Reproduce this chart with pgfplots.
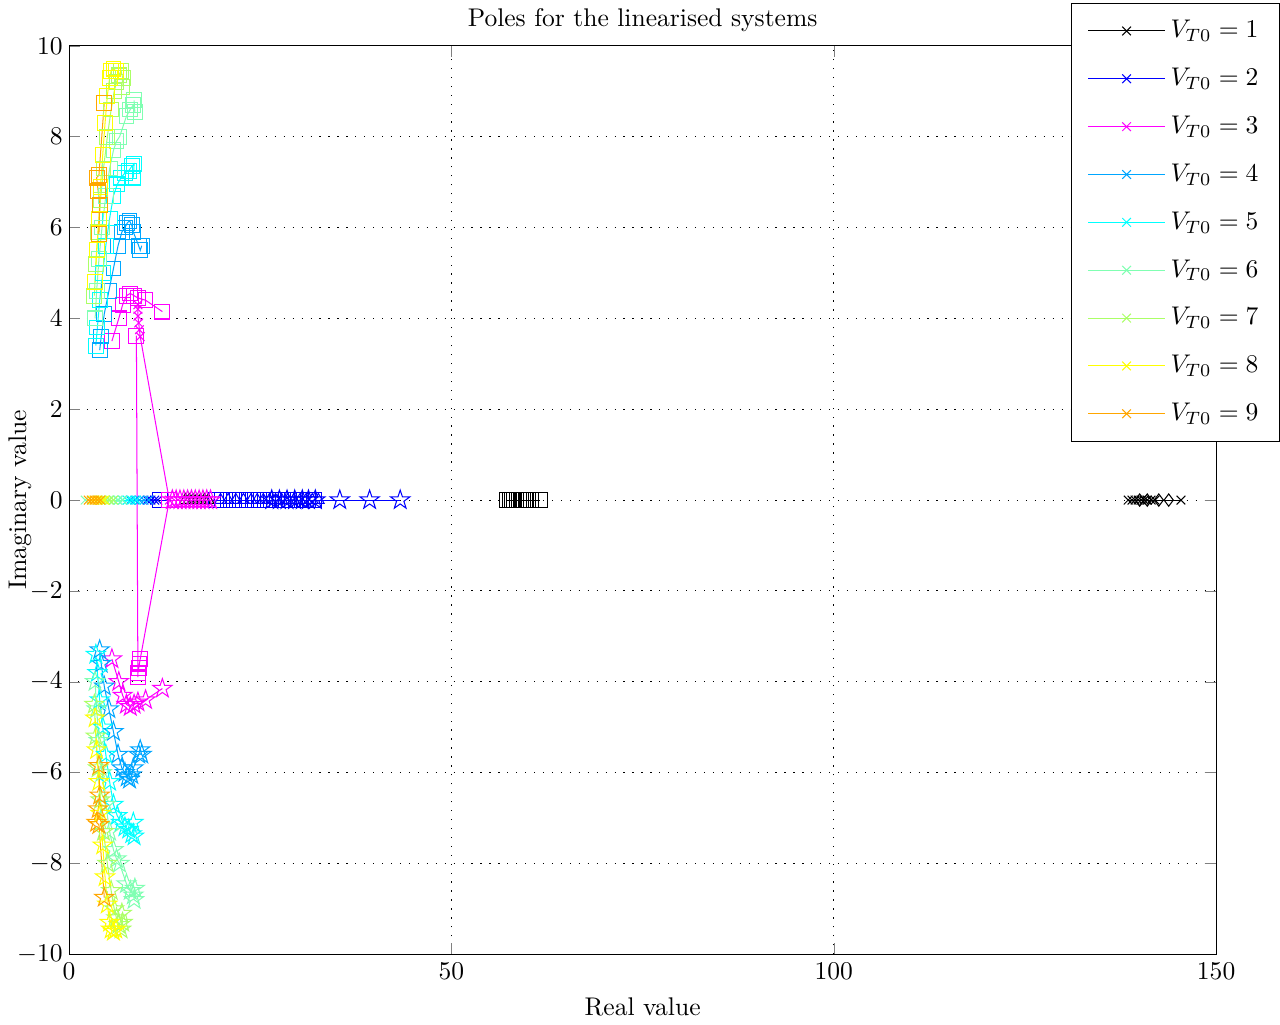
\documentclass[border=0pt]{standalone}
\usepackage{pgfplots}
\pgfplotsset{compat=1.18}

% open five-pointed star (MATLAB's pentagram marker)
\pgfdeclareplotmark{pentagram}{%
  \pgfpathmoveto{\pgfpointpolar{90}{1.35\pgfplotmarksize}}%
  \pgfpathlineto{\pgfpointpolar{126}{0.52\pgfplotmarksize}}%
  \pgfpathlineto{\pgfpointpolar{162}{1.35\pgfplotmarksize}}%
  \pgfpathlineto{\pgfpointpolar{198}{0.52\pgfplotmarksize}}%
  \pgfpathlineto{\pgfpointpolar{234}{1.35\pgfplotmarksize}}%
  \pgfpathlineto{\pgfpointpolar{270}{0.52\pgfplotmarksize}}%
  \pgfpathlineto{\pgfpointpolar{306}{1.35\pgfplotmarksize}}%
  \pgfpathlineto{\pgfpointpolar{342}{0.52\pgfplotmarksize}}%
  \pgfpathlineto{\pgfpointpolar{18}{1.35\pgfplotmarksize}}%
  \pgfpathlineto{\pgfpointpolar{54}{0.52\pgfplotmarksize}}%
  \pgfpathclose
  \pgfusepathqstroke}

\definecolor{c1}{rgb}{0,0,0}
\definecolor{c2}{rgb}{0,0,1}
\definecolor{c3}{rgb}{1,0,1}
\definecolor{c4}{rgb}{0,0.65,1}
\definecolor{c5}{rgb}{0,1,1}
\definecolor{c6}{rgb}{0.5,1,0.7}
\definecolor{c7}{rgb}{0.67,1,0.4}
\definecolor{c8}{rgb}{1,1,0}
\definecolor{c9}{rgb}{1,0.65,0}

\begin{document}
\begin{tikzpicture}
\begin{axis}[
  scale only axis,
  width=449pt, height=355.6pt,
  xmin=0, xmax=150, ymin=-10, ymax=10,
  xtick={0,50,100,150},
  ytick={-10,-8,-6,-4,-2,0,2,4,6,8,10},
  xmajorgrids, ymajorgrids,
  grid style={black, dash pattern=on 0.5pt off 3pt},
  title={Poles for the linearised systems},
  title style={yshift=-4pt},
  xlabel={Real value},
  ylabel={Imaginary value},
  ylabel style={at={(axis description cs:-0.0428,0.5)}, anchor=center},
  yticklabel style={xshift=1pt},
  mark size=2.4pt,
  every axis plot/.append style={thin, mark options={solid}},
  legend image code/.code={\draw[mark repeat=2,mark phase=2,#1]
      plot coordinates {(0pt,0pt) (15pt,0pt) (30pt,0pt)};},
  legend cell align=left,
  legend style={at={(1.0557,1.047)}, anchor=north east,
    draw=black, fill=white, row sep=6.4pt,
    inner xsep=6.2pt, inner ysep=4.5pt},
]

% ---------- V_T0 = 1 ----------
\addplot[c1, mark=x] coordinates {(138.5,0) (139.0,0) (139.4,0) (139.8,0) (140.2,0) (140.6,0) (141.0,0) (141.5,0) (142.0,0) (145.4,0)};
\addlegendentry{$V_{T0}=1$}
\addplot[c1, mark=diamond, forget plot] coordinates {(140.0,0) (141.0,0) (142.5,0) (143.8,0)};
\addplot[c1, mark=square, mark size=2.9pt, forget plot] coordinates {(57.3,0) (57.6,0) (57.9,0) (58.2,0) (58.5,0) (58.8,0) (59.1,0) (59.4,0) (59.7,0) (60.0,0) (60.4,0) (61.6,0)};
\addplot[c1, mark=triangle, mark size=2.6pt, forget plot] coordinates {(15.2,0) (15.7,0) (16.2,0) (16.7,0) (17.2,0) (17.7,0) (18.2,0)};

% ---------- V_T0 = 2 ----------
\addplot[c2, mark=x] coordinates {(10.2,0) (10.7,0) (11.2,0) (11.6,0)};
\addlegendentry{$V_{T0}=2$}
\addplot[c2, mark=square, mark size=2.9pt, forget plot] coordinates {(11.9,0) (19.2,0) (20.0,0) (20.8,0) (21.6,0) (22.4,0) (23.2,0) (24.0,0) (24.8,0) (25.6,0) (26.4,0) (27.2,0) (28.0,0) (28.8,0) (29.6,0) (30.4,0) (31.2,0) (32.0,0)};
\addplot[c2, mark=triangle, mark size=2.6pt, forget plot] coordinates {(19.8,0) (20.8,0) (21.8,0) (22.8,0) (23.8,0) (24.6,0) (25.4,0) (26.2,0) (27.0,0) (27.8,0) (28.6,0) (29.4,0) (30.2,0) (31.0,0) (31.8,0) (32.6,0)};
\addplot[c2, mark=pentagram, mark size=2.9pt, forget plot] coordinates {(26.5,0) (27.5,0) (28.5,0) (29.5,0) (30.5,0) (31.3,0) (32.2,0) (35.4,0) (39.3,0) (43.3,0)};

% ---------- V_T0 = 3 ----------
\addplot[c3, mark=x] coordinates {(9.0,4.3) (9.0,4.2) (9.0,4.05) (9.1,3.9) (9.2,3.75) (9.3,3.6) (13.1,0)};
\addlegendentry{$V_{T0}=3$}
\addplot[c3, mark=square, mark size=2.9pt, forget plot] coordinates {(13.1,0) (9.3,-3.5) (9.2,-3.6) (9.1,-3.7) (9.0,-3.8) (9.0,-3.9) (8.8,3.62)};
\addplot[c3, mark=square, mark size=2.9pt, forget plot] coordinates {(5.6,3.5) (6.5,4.0) (7.0,4.3) (7.5,4.5) (8.0,4.55) (8.5,4.5) (9.0,4.45) (10.0,4.4) (12.2,4.15)};
\addplot[c3, mark=pentagram, mark size=2.9pt, forget plot] coordinates {(5.6,-3.5) (6.5,-4.0) (7.0,-4.3) (7.5,-4.5) (8.0,-4.55) (8.5,-4.5) (9.0,-4.45) (10.0,-4.4) (12.2,-4.15)};
\addplot[c3, mark=pentagram, mark size=2.9pt, forget plot] coordinates {(13.5,0) (14.0,0) (14.5,0) (15.0,0) (15.5,0) (16.0,0) (16.5,0) (17.0,0) (17.5,0) (18.0,0) (18.5,0)};

% ---------- V_T0 = 4 ----------
\addplot[c4, mark=x] coordinates {(8.0,0) (8.6,0) (9.2,0) (9.8,0) (10.4,0)};
\addlegendentry{$V_{T0}=4$}
\addplot[c4, mark=square, mark size=2.9pt, forget plot] coordinates {(4.0,3.3) (4.2,3.6) (4.6,4.1) (5.2,4.6) (5.8,5.1) (6.4,5.6) (6.9,5.9) (7.3,6.0) (7.6,6.1) (7.9,6.15) (8.2,6.05) (8.4,5.9) (9.1,5.6) (9.3,5.5) (9.5,5.6)};
\addplot[c4, mark=pentagram, mark size=2.9pt, forget plot] coordinates {(4.0,-3.3) (4.2,-3.6) (4.6,-4.1) (5.2,-4.6) (5.8,-5.1) (6.4,-5.6) (6.9,-5.9) (7.3,-6.0) (7.6,-6.1) (7.9,-6.15) (8.2,-6.05) (8.4,-5.9) (9.1,-5.6) (9.3,-5.5) (9.5,-5.6)};

% ---------- V_T0 = 5 ----------
\addplot[c5, mark=x] coordinates {(6.4,0) (7.0,0) (7.6,0) (8.2,0) (8.8,0)};
\addlegendentry{$V_{T0}=5$}
\addplot[c5, mark=square, mark size=2.9pt, forget plot] coordinates {(3.5,3.4) (3.7,3.8) (4.0,4.4) (4.4,5.0) (4.8,5.6) (5.3,6.2) (5.8,6.7) (6.3,6.95) (6.8,7.1) (7.3,7.2) (7.8,7.25) (8.2,7.35) (8.5,7.4) (8.4,7.1)};
\addplot[c5, mark=pentagram, mark size=2.9pt, forget plot] coordinates {(3.5,-3.4) (3.7,-3.8) (4.0,-4.4) (4.4,-5.0) (4.8,-5.6) (5.3,-6.2) (5.8,-6.7) (6.3,-6.95) (6.8,-7.1) (7.3,-7.2) (7.8,-7.25) (8.2,-7.35) (8.5,-7.4) (8.4,-7.1)};

% ---------- V_T0 = 6 ----------
\addplot[c6, mark=x] coordinates {(2.1,0) (5.2,0) (5.8,0) (6.4,0) (7.0,0)};
\addlegendentry{$V_{T0}=6$}
\addplot[c6, mark=square, mark size=2.9pt, forget plot] coordinates {(3.4,4.0) (3.6,4.6) (3.9,5.3) (4.3,6.0) (4.8,6.7) (5.3,7.3) (5.8,7.7) (6.2,7.9) (6.6,8.0) (7.5,8.45) (8.0,8.6) (8.4,8.7) (8.6,8.55) (8.5,8.8)};
\addplot[c6, mark=pentagram, mark size=2.9pt, forget plot] coordinates {(3.4,-4.0) (3.6,-4.6) (3.9,-5.3) (4.3,-6.0) (4.8,-6.7) (5.3,-7.3) (5.8,-7.7) (6.2,-7.9) (6.6,-8.0) (7.5,-8.45) (8.0,-8.6) (8.4,-8.7) (8.6,-8.55) (8.5,-8.8)};

% ---------- V_T0 = 7 ----------
\addplot[c7, mark=x] coordinates {(3.8,0) (4.3,0) (4.8,0) (5.3,0) (5.8,0)};
\addlegendentry{$V_{T0}=7$}
\addplot[c7, mark=square, mark size=2.9pt, forget plot] coordinates {(3.3,4.5) (3.5,5.2) (3.8,5.9) (4.1,6.6) (4.5,7.3) (5.0,8.0) (5.5,8.6) (5.9,9.0) (6.2,9.2) (6.5,9.35) (6.8,9.45) (7.0,9.3) (6.9,9.1)};
\addplot[c7, mark=pentagram, mark size=2.9pt, forget plot] coordinates {(3.3,-4.5) (3.5,-5.2) (3.8,-5.9) (4.1,-6.6) (4.5,-7.3) (5.0,-8.0) (5.5,-8.6) (5.9,-9.0) (6.2,-9.2) (6.5,-9.35) (6.8,-9.45) (7.0,-9.3) (6.9,-9.1)};

% ---------- V_T0 = 8 ----------
\addplot[c8, mark=x] coordinates {(3.0,0) (3.4,0) (3.8,0) (4.2,0) (4.6,0)};
\addlegendentry{$V_{T0}=8$}
\addplot[c8, mark=square, mark size=2.9pt, forget plot] coordinates {(3.4,4.8) (3.6,5.5) (3.9,6.2) (4.1,6.9) (4.4,7.6) (4.7,8.3) (5.0,8.9) (5.3,9.3) (5.5,9.45) (5.8,9.5) (6.1,9.45)};
\addplot[c8, mark=pentagram, mark size=2.9pt, forget plot] coordinates {(3.4,-4.8) (3.6,-5.5) (3.9,-6.2) (4.1,-6.9) (4.4,-7.6) (4.7,-8.3) (5.0,-8.9) (5.3,-9.3) (5.5,-9.45) (5.8,-9.5) (6.1,-9.45)};

% ---------- V_T0 = 9 ----------
\addplot[c9, mark=x] coordinates {(2.5,0) (2.9,0) (3.3,0) (3.7,0) (4.1,0)};
\addlegendentry{$V_{T0}=9$}
\addplot[c9, mark=square, mark size=2.9pt, forget plot] coordinates {(3.9,5.85) (4.0,6.5) (3.8,6.8) (3.6,7.1) (3.9,7.15) (4.6,8.75)};
\addplot[c9, mark=pentagram, mark size=2.9pt, forget plot] coordinates {(3.9,-5.85) (4.0,-6.5) (3.8,-6.8) (3.6,-7.1) (3.9,-7.15) (4.6,-8.75)};

\end{axis}
\end{tikzpicture}
\end{document}
